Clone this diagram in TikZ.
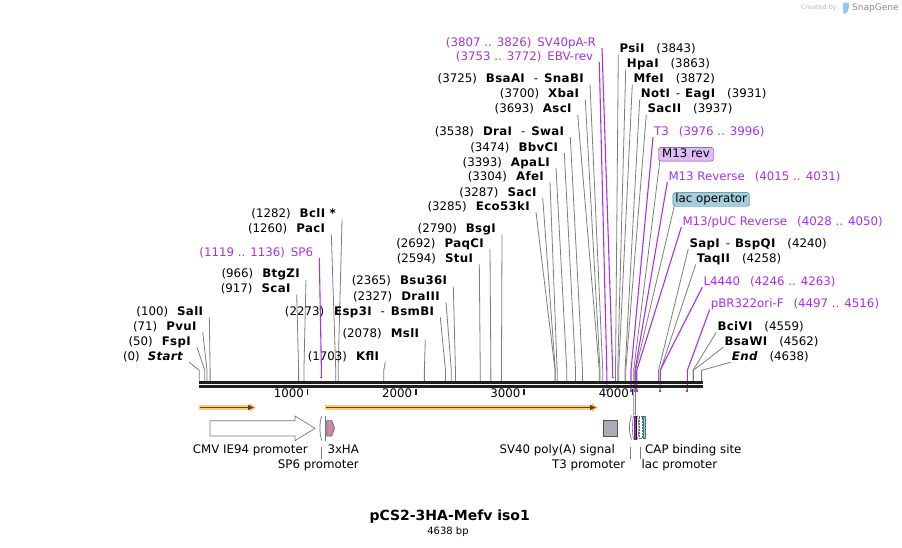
\documentclass[tikz,border=0pt]{standalone}
\usepackage{fontspec}
\setmainfont{DejaVu Sans}
\newfontfamily\enzfont{DejaVu Sans}[LetterSpace=3]
\usetikzlibrary{arrows.meta,positioning,calc}
\definecolor{primpurple}{RGB}{168,50,235}
\definecolor{cutgray}{RGB}{125,125,125}
\definecolor{orfglow}{RGB}{255,205,120}
\definecolor{orfdark}{RGB}{85,70,45}
\definecolor{m13fill}{RGB}{224,188,246}
\definecolor{m13line}{RGB}{125,45,165}
\definecolor{lacfill}{RGB}{164,206,220}
\definecolor{lacline}{RGB}{55,120,140}
\definecolor{polyafill}{RGB}{168,172,180}
\definecolor{hafill}{RGB}{200,140,170}
\definecolor{featgray}{RGB}{120,120,120}
\definecolor{snapblue}{RGB}{150,200,235}
\newcommand{\enzn}[1]{{\enzfont\bfseries #1}}
\tikzset{
  enzlbl/.style={inner sep=0pt,text height=8.5pt,text depth=2.6pt,font=\fontsize{11.8}{14}\selectfont},
  primlbl/.style={enzlbl,text=primpurple},
  featlbl/.style={enzlbl},
  cutline/.style={draw=cutgray,line width=0.8pt},
  primline/.style={draw=primpurple,line width=1.1pt},
  orfglowline/.style={draw=orfglow,line width=5.5pt,-{Triangle[length=6pt,width=9pt]}},
  orfline/.style={draw=orfdark,line width=1.6pt,-{Triangle[length=6pt,width=5pt]}},
  featbox/.style={rounded corners=2.5pt,inner sep=0pt,minimum height=13.7pt,text height=8.5pt,text depth=2.6pt,font=\fontsize{11.8}{14}\selectfont}
}

\begin{document}
\begin{tikzpicture}[x=1pt,y=-1pt]
\useasboundingbox (0,0) rectangle (902,547);
\fill[white] (0,0) rectangle (902,547);
\coordinate (knee) at (0,370.3);

% watermark
\node[inner sep=0pt,anchor=east,font=\fontsize{6.5}{7}\selectfont,text=black!28] (mkby) at (837,8) {Created by};
\fill[snapblue,rounded corners=1pt] (843,2.5) -- (849,2.5) -- (849,8) -- (846.5,13.5) -- (843,13.5) -- cycle;
\node[inner sep=0pt,anchor=west,font=\fontsize{9}{10}\selectfont,text=black!45] (mksg) at (852,8) {SnapGene};

% enzyme sites, labels on the left
\foreach \bp/\rx/\cy/\txt [count=\i] in {
  0/183/356.7/{(0)\hspace{8pt}\enzn{\itshape Start}},
  50/191/341.7/{(50)\hspace{9pt}\enzn{FspI}},
  71/196.7/326.7/{(71)\hspace{9pt}\enzn{PvuI}},
  100/203.3/311.7/{(100)\hspace{9pt}\enzn{SalI}},
  917/290.7/289/{(917)\hspace{9pt}\enzn{ScaI}},
  966/300/274/{(966)\hspace{9pt}\enzn{BtgZI}},
  1260/325.3/229/{(1260)\hspace{9pt}\enzn{PacI}},
  1282/336/214/{(1282)\hspace{9pt}\enzn{BclI *}},
  1703/379.3/356.7/{(1703)\hspace{9pt}\enzn{KflI}},
  2078/419.3/334/{(2078)\hspace{9pt}\enzn{MslI}},
  2273/434.3/311.7/{(2273)\hspace{10pt}\enzn{Esp3I}\hspace{9pt}-\hspace{6pt}\enzn{BsmBI}},
  2327/440/296.7/{(2327)\hspace{9pt}\enzn{DraIII}},
  2365/447.3/281/{(2365)\hspace{9pt}\enzn{Bsu36I}},
  2594/473.3/258.3/{(2594)\hspace{9pt}\enzn{StuI}},
  2692/484/243.3/{(2692)\hspace{9pt}\enzn{PaqCI}},
  2790/496/229/{(2790)\hspace{9pt}\enzn{BsgI}},
  3285/530/206.7/{(3285)\hspace{9pt}\enzn{Eco53kI}},
  3287/536.7/192.3/{(3287)\hspace{9pt}\enzn{SacI}},
  3304/544/176.7/{(3304)\hspace{9pt}\enzn{AfeI}},
  3393/550/162.3/{(3393)\hspace{9pt}\enzn{ApaLI}},
  3474/558.3/147.3/{(3474)\hspace{9pt}\enzn{BbvCI}},
  3538/564.3/131.7/{(3538)\hspace{9pt}\enzn{DraI}\hspace{9pt}-\hspace{6pt}\enzn{SwaI}},
  3693/571.7/109/{(3693)\hspace{9pt}\enzn{AscI}},
  3700/579.3/94/{(3700)\hspace{9pt}\enzn{XbaI}},
  3725/584/79/{(3725)\hspace{9pt}\enzn{BsaAI}\hspace{9pt}-\hspace{6pt}\enzn{SnaBI}}}{
  \node[enzlbl,anchor=east] (el\i) at (\rx,\cy+1) {\txt};
  \coordinate (es\i) at ({199.3+\bp*0.1083},381.3);
  \draw[cutline] ([shift={(6pt,-4.5pt)}]el\i.east) -- (es\i |- knee) -- (es\i);
}

% enzyme sites, labels on the right
\foreach \bp/\lx/\cy/\txt [count=\i] in {
  3843/619.3/49/{\enzn{PsiI}\hspace{12pt}(3843)},
  3863/626.7/64/{\enzn{HpaI}\hspace{12pt}(3863)},
  3872/633.3/79/{\enzn{MfeI}\hspace{12pt}(3872)},
  3931/640.7/94/{\enzn{NotI}\hspace{6pt}-\hspace{5pt}\enzn{EagI}\hspace{12pt}(3931)},
  3937/647.3/109/{\enzn{SacII}\hspace{12pt}(3937)},
  4240/689.3/243.3/{\enzn{SapI}\hspace{6pt}-\hspace{5pt}\enzn{BspQI}\hspace{12pt}(4240)},
  4258/696.7/259/{\enzn{TaqII}\hspace{12pt}(4258)},
  4559/717.3/326.7/{\enzn{BciVI}\hspace{12pt}(4559)},
  4562/724.3/341.7/{\enzn{BsaWI}\hspace{12pt}(4562)},
  4638/731.7/356.7/{\enzn{\itshape End}\hspace{12pt}(4638)}}{
  \node[enzlbl,anchor=west] (er\i) at (\lx,\cy+1) {\txt};
  \coordinate (ers\i) at ({199.3+\bp*0.1083},381.3);
  \draw[cutline] ([shift={(-1pt,-4.5pt)}]er\i.west) -- (ers\i |- knee) -- (ers\i);
}

% primers, labels on the left
\foreach \bp/\len/\rx/\cy/\txt/\rev [count=\i] in {
  1127.5/18/313.3/252.3/{(1119 .. 1136)\hspace{6pt}SP6}/0,
  3762.5/20/593.3/56.7/{(3753 .. 3772)\hspace{6pt}EBV-rev}/1,
  3816.5/20/596/42.3/{(3807 .. 3826)\hspace{6pt}SV40pA-R}/0}{
  \node[primlbl,anchor=east] (pl\i) at (\rx,\cy+1) {\txt};
  \pgfmathsetmacro\pend{\rev>0 ? 390.5 : 377.3}
  \coordinate (ps\i) at ({199.3+\bp*0.1083},\pend);
  \draw[primline] ([shift={(6pt,-4.5pt)}]pl\i.east) -- (ps\i |- knee) -- (ps\i);
  \draw[primline,line width=1.6pt] ([xshift={-\len*0.054pt}]ps\i) -- ([xshift={\len*0.054pt}]ps\i);
}

% primers, labels on the right
\foreach \bp/\len/\lx/\cy/\txt [count=\i] in {
  3986/21/654/131.7/{T3\hspace{10pt}(3976 .. 3996)},
  4023/17/668.3/176.7/{M13 Reverse\hspace{10pt}(4015 .. 4031)},
  4039/23/682.3/221.7/{M13/pUC Reverse\hspace{10pt}(4028 .. 4050)},
  4254.5/18/703.3/281.7/{L4440\hspace{10pt}(4246 .. 4263)},
  4506.5/20/710.7/304/{pBR322ori-F\hspace{10pt}(4497 .. 4516)}}{
  \node[primlbl,anchor=west] (pr\i) at (\lx,\cy+1) {\txt};
  \coordinate (prs\i) at ({199.3+\bp*0.1083},391);
  \draw[primline] ([shift={(-1pt,-4.5pt)}]pr\i.west) -- (prs\i |- knee) -- (prs\i);
  \draw[primline,line width=1.6pt] ([xshift={-\len*0.054pt}]prs\i) -- ([xshift={\len*0.054pt}]prs\i);
}

% feature labels above the map
\node[featbox,draw=m13line,fill=m13fill,minimum width=55pt,anchor=west] (m13rev) at (658.3,154.2) {M13 rev};
\node[featbox,draw=lacline,fill=lacfill,minimum width=76.6pt,anchor=west] (lacop) at (672.7,199.4) {lac operator};
\coordinate (m13f) at (633.7,415);
\coordinate (lacf) at (635.5,415);
\draw[cutline] ([xshift=1.5pt]m13rev.south west) -- (m13f |- knee) -- (m13f);
\draw[cutline] ([xshift=1.5pt]lacop.south west) -- (lacf |- knee) -- (lacf);

% backbone
\coordinate (bbL) at (199,382.5);
\coordinate (bbR) at (702.7,382.5);
\draw[line width=2.4pt,black!88] (bbL) -- (bbR);
\draw[line width=2.6pt,black!88] ([yshift=-3.8pt]bbL) -- ([yshift=-3.8pt]bbR);
\foreach \k in {1,2,3,4}{
  \coordinate (tk\k) at ({199.3+\k*108.3},388.5);
  \draw[line width=1.6pt,black!88] (tk\k) -- ++(0,6);
  \node[enzlbl,anchor=east] (tl\k) at ([xshift=-3.5pt,yshift=-6pt]tk\k) {\k000};
}

% ORFs
\draw[orfglowline] (199,407.5) -- (256,407.5);
\draw[orfline] (200,407.5) -- (254,407.5);
\draw[orfglowline] (324.5,407.5) -- (598,407.5);
\draw[orfline] (325.5,407.5) -- (596,407.5);

% features
\draw[featgray,fill=white,line width=0.7pt] (210,420.7) -- (295,420.7) -- (295,416) -- (315,428.3) -- (295,440.7) -- (295,436) -- (210,436) -- cycle;
\draw[featgray,line width=0.7pt] (321.8,416) .. controls (319.3,422) and (319.3,434) .. (321.8,440.5);
\draw[featgray,line width=0.7pt] (325.6,416) -- (325.6,440.5);
\draw[featgray!80!black,fill=hafill,line width=0.6pt] (326.7,420.7) -- (331.8,420.7) -- (334.5,428.3) -- (331.8,436) -- (326.7,436) -- cycle;
\draw[featgray!70!black,fill=polyafill,line width=0.7pt] (603.3,420.3) rectangle (617.5,436);
\draw[featgray,line width=0.7pt] (631.5,415.5) .. controls (628.8,422) and (628.8,433) .. (631.5,439.5);
\draw[featgray,line width=0.6pt] (633.6,415.5) .. controls (632,422) and (632,433) .. (633.6,439.5);
\draw[m13line!80!black,fill=primpurple,line width=0.5pt] (634.3,416) rectangle (636,439);
\draw[black,line width=0.8pt] (636.7,416) -- (636.7,439);
\draw[featgray,line width=0.7pt] (637.3,415.5) .. controls (639.4,422) and (639.4,433) .. (637.3,439.5);
\draw[black!60,line width=0.5pt,densely dotted,fill=white] (639.4,416.5) rectangle (642.3,438.5);
\draw[lacline,fill=lacfill,line width=0.6pt] (643,416.5) rectangle (645.2,438.5);

% feature labels below the map
\node[featlbl] (cmvl) at (250.3,451) {CMV IE94 promoter};
\node[featlbl,anchor=west] (hal) at (327.3,451) {3xHA};
\node[featlbl] (sp6l) at (318.3,466) {SP6 promoter};
\node[featlbl,anchor=east] (polyal) at (615,451) {SV40 poly(A) signal};
\node[featlbl,anchor=east] (t3l) at (625.5,466) {T3 promoter};
\node[featlbl,anchor=west] (capl) at (645,451) {CAP binding site};
\node[featlbl,anchor=west] (lacl) at (641.5,466) {lac promoter};
\coordinate (sp6f) at (321,446.5);
\coordinate (t3f) at (630.7,446.5);
\coordinate (lacpf) at (640.7,446.5);
\draw[cutline] (sp6f) -- ([yshift=1pt]sp6f |- sp6l.north);
\draw[cutline] (t3f) -- ([yshift=1pt]t3f |- t3l.north);
\draw[cutline] (lacpf) -- ([yshift=1pt]lacpf |- lacl.north);

% title
\node[inner sep=0pt,font=\fontsize{14}{16}\selectfont\bfseries] (title) at (449.7,517) {pCS2-3HA-Mefv iso1};
\node[inner sep=0pt,font=\fontsize{10}{12}\selectfont] (bplen) at (448,532) {4638 bp};
\end{tikzpicture}
\end{document}
